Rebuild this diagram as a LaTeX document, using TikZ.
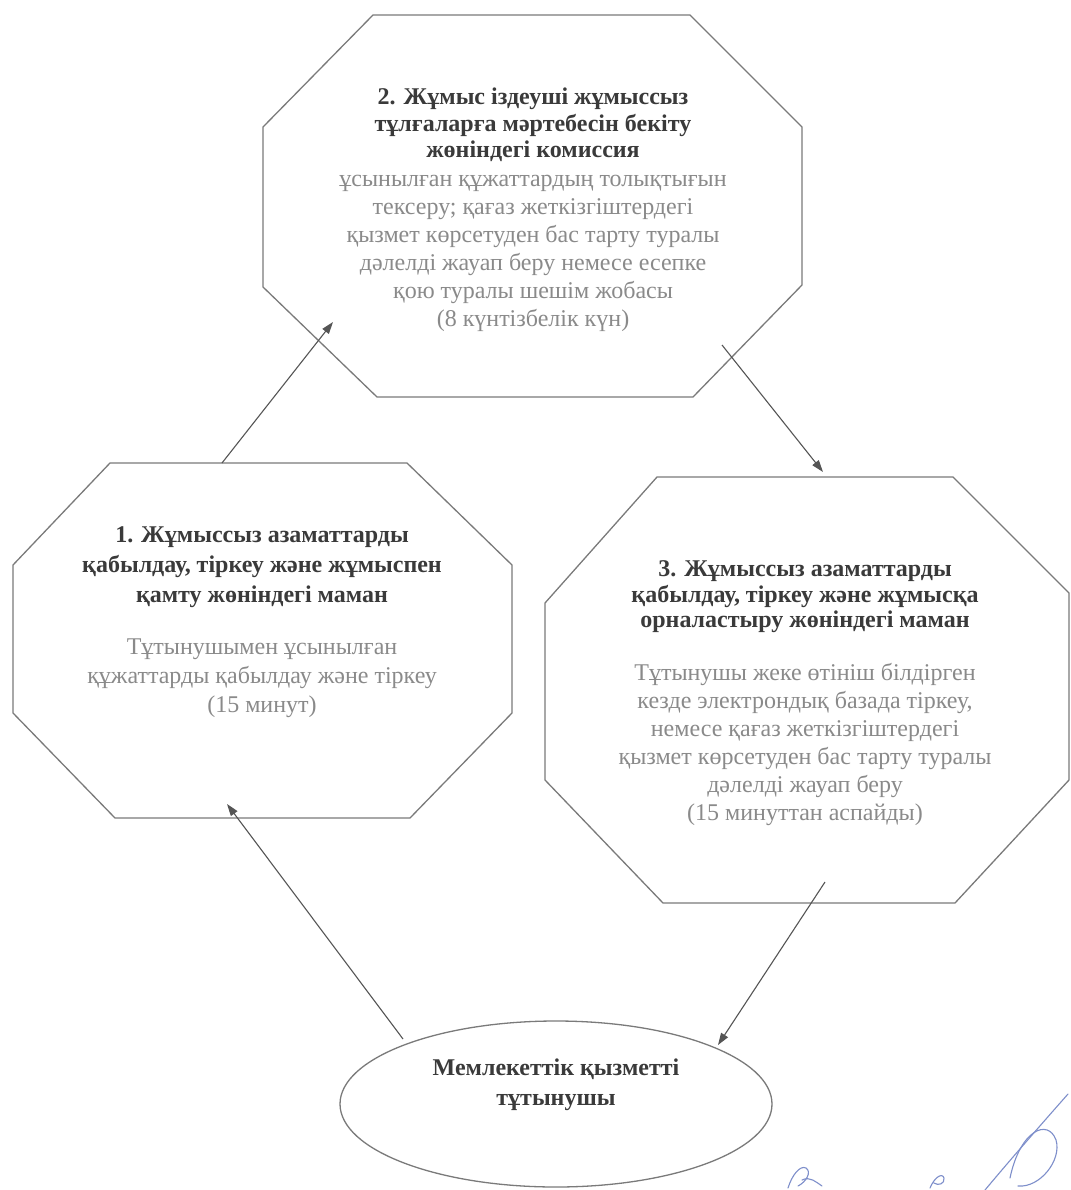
\documentclass[tikz,border=0pt]{standalone}
\usepackage{fontspec}
\setmainfont{Liberation Serif}
\usetikzlibrary{arrows.meta,shapes.geometric}
\definecolor{edgegray}{HTML}{7A7A7A}
\definecolor{headgray}{HTML}{3A3A3A}
\definecolor{bodygray}{HTML}{8A8A8A}
\definecolor{arrowgray}{HTML}{555555}
\definecolor{sigblue}{HTML}{7E8FCB}
\tikzset{
  octa/.style={draw=edgegray, line width=1.3pt, line join=round},
  headtxt/.style={align=center, text=headgray, inner sep=0pt, font=\fontsize{24}{27}\selectfont\bfseries},
  bodytxt/.style={align=center, text=bodygray, inner sep=0pt, font=\fontsize{24}{28}\selectfont},
  flow/.style={draw=arrowgray, line width=1.1pt, -{Triangle[length=12pt,width=8pt]}},
  consumer/.style={ellipse, draw=edgegray, line width=1.3pt, minimum width=432pt, minimum height=166pt, inner sep=0pt},
  sig/.style={draw=sigblue, line width=1.1pt, line cap=round}
}
\begin{document}
\begin{tikzpicture}[x=1pt,y=-1pt]
\useasboundingbox[fill=white] (0,0) rectangle (1070,1190);

% octagon 2 (top)
\draw[octa] (373,15) -- (690,15) -- (802,127) -- (802,285) -- (693,397) -- (377,397) -- (263,287) -- (263,127) -- cycle;
\node[headtxt, font=\fontsize{24}{26.5}\selectfont\bfseries] (h2) at (533,125) {2. Жұмыс іздеуші жұмыссыз\\тұлғаларға мәртебесін бекіту\\жөніндегі комиссия};
\node[bodytxt] (b2) at (533,253) {ұсынылған құжаттардың толықтығын\\тексеру; қағаз жеткізгіштердегі\\қызмет көрсетуден бас тарту туралы\\дәлелді жауап беру немесе есепке\\қою туралы шешім жобасы\\(8 күнтізбелік күн)};

% octagon 1 (left)
\draw[octa] (110,463) -- (407,463) -- (512,565) -- (512,713) -- (410,818) -- (115,818) -- (13,713) -- (13,565) -- cycle;
\node[headtxt, font=\fontsize{24}{30}\selectfont\bfseries] (h1) at (262,567) {1. Жұмыссыз азаматтарды\\қабылдау, тіркеу және жұмыспен\\қамту жөніндегі маман};
\node[bodytxt, font=\fontsize{24}{29}\selectfont] (b1) at (262,678) {Тұтынушымен ұсынылған\\құжаттарды қабылдау және тіркеу\\(15 минут)};

% octagon 3 (right)
\draw[octa] (657,477) -- (953,477) -- (1069,593) -- (1069,780) -- (955,903) -- (663,903) -- (545,780) -- (545,603) -- cycle;
\node[headtxt, font=\fontsize{24}{25.5}\selectfont\bfseries] (h3) at (805,597) {3. Жұмыссыз азаматтарды\\қабылдау, тіркеу және жұмысқа\\орналастыру жөніндегі маман};
\node[bodytxt] (b3) at (805,744) {Тұтынушы жеке өтініш білдірген\\кезде электрондық базада тіркеу,\\немесе қағаз жеткізгіштердегі\\қызмет көрсетуден бас тарту туралы\\дәлелді жауап беру\\(15 минуттан аспайды)};

% consumer ellipse
\node[consumer] (c) at (556,1104) {};
\node[headtxt, font=\fontsize{24}{30}\selectfont\bfseries] (ct) at (556,1085) {Мемлекеттік қызметті\\тұтынушы};

% connector end points
\coordinate (o1top) at (222,463);
\coordinate (o2in) at (333,322);
\coordinate (o2out) at (722,345);
\coordinate (o3in) at (823,472);
\coordinate (o3out) at (825,882);
\coordinate (cin) at (718,1045);
\coordinate (cout) at (403,1039);
\coordinate (o1in) at (227,804);

\draw[flow] (o1top) -- (o2in);
\draw[flow] (o2out) -- (o3in);
\draw[flow] (o3out) -- (cin);
\draw[flow] (cout) -- (o1in);

% signature
\draw[sig] (788,1188) .. controls (792,1175) and (800,1165) .. (806,1168) .. controls (812,1172) and (806,1182) .. (798,1186);
\draw[sig] (802,1180) .. controls (810,1176) and (816,1182) .. (822,1186);
\draw[sig] (930,1188) .. controls (934,1178) and (942,1172) .. (944,1178) .. controls (945,1184) and (938,1186) .. (934,1183);
\draw[sig] (985,1190) .. controls (1010,1160) and (1045,1120) .. (1068,1094);
\draw[sig] (1010,1178) .. controls (1020,1130) and (1048,1118) .. (1056,1140) .. controls (1062,1160) and (1040,1188) .. (1018,1186);
\end{tikzpicture}
\end{document}
